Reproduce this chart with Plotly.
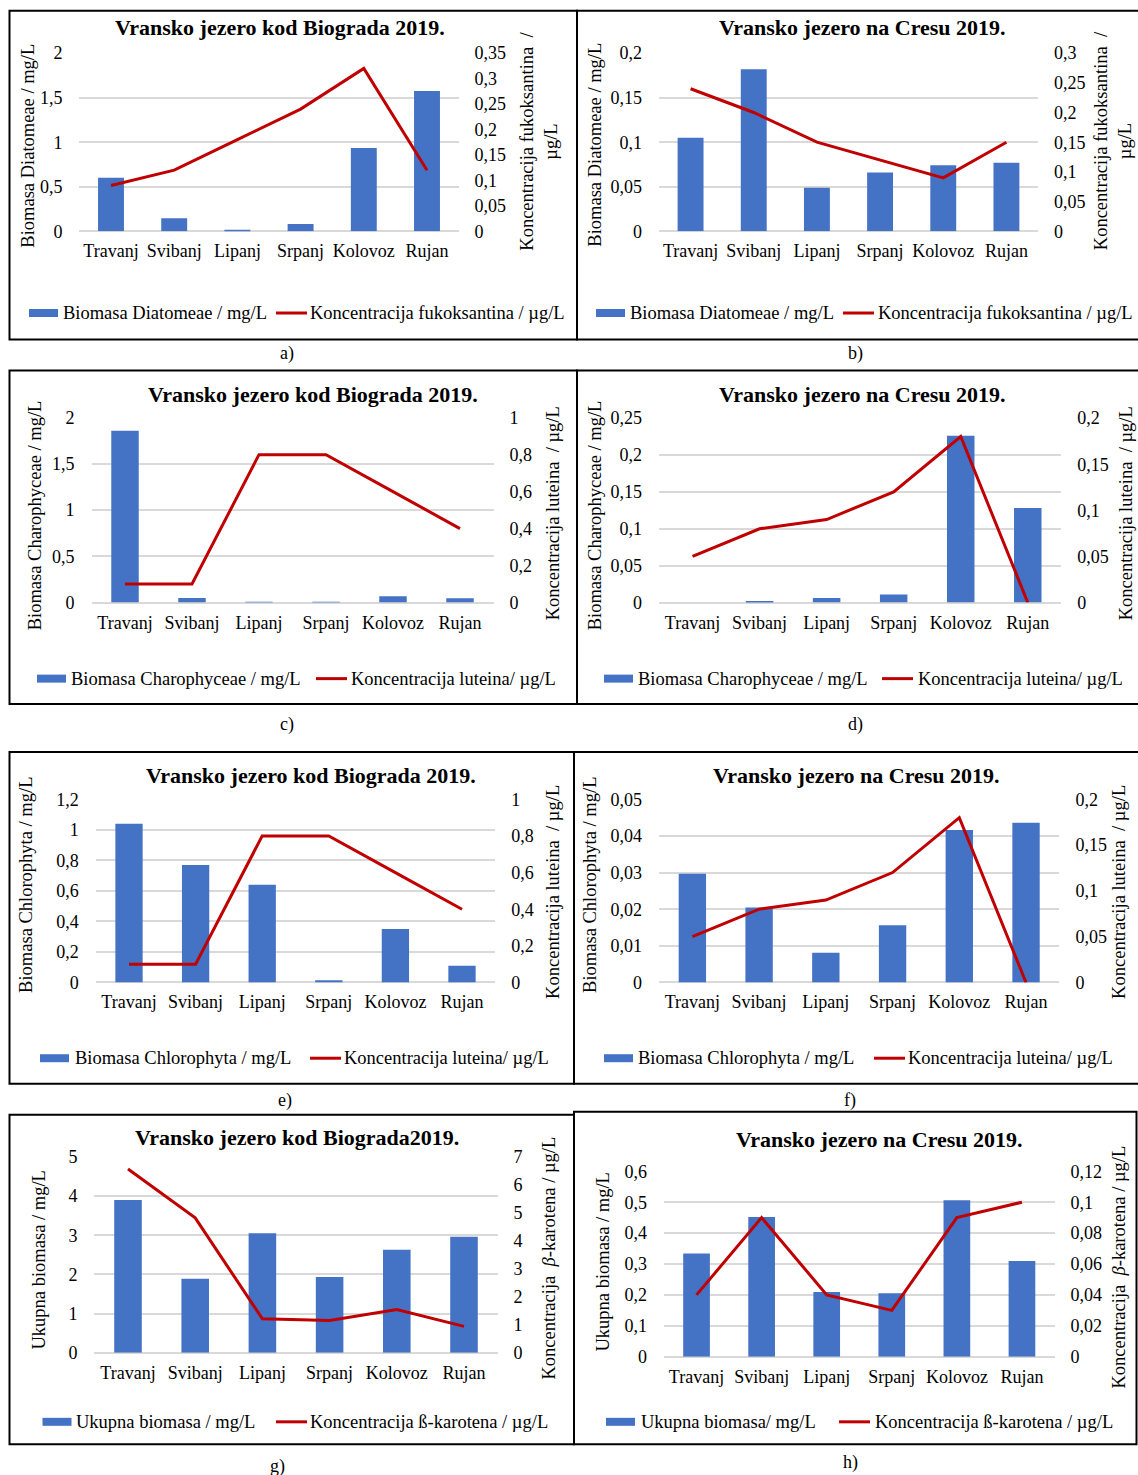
import plotly.graph_objects as go

W, H = 1138, 1475
FONT = "Liberation Serif"
BLUE = "#4472C4"
RED = "#C00000"
GRID = "#D9D9D9"
INK = "#000000"

months = ["Travanj", "Svibanj", "Lipanj", "Srpanj", "Kolovoz", "Rujan"]

# Biomass by group (mg/L)
diatomeae_biograd = [0.60, 0.146, 0.016, 0.083, 0.935, 1.574]
diatomeae_cres = [0.105, 0.182, 0.049, 0.066, 0.074, 0.077]
charophyceae_biograd = [1.86, 0.05, 0.008, 0.008, 0.068, 0.047]
charophyceae_cres = [0.0, 0.001, 0.006, 0.011, 0.226, 0.128]
chlorophyta_biograd = [1.04, 0.77, 0.64, 0.015, 0.35, 0.11]
chlorophyta_cres = [0.0297, 0.0205, 0.0081, 0.0156, 0.0416, 0.0436]
ukupna_biograd = [3.90, 1.89, 3.05, 1.93, 2.63, 2.96]
ukupna_cres = [0.334, 0.452, 0.209, 0.205, 0.506, 0.310]

# Pigment concentrations (µg/L)
fukoksantin_biograd = [0.09, 0.12, 0.18, 0.24, 0.32, 0.12]
fukoksantin_cres = [0.24, 0.20, 0.15, 0.12, 0.09, 0.15]
lutein_biograd = [0.1, 0.1, 0.8, 0.8, 0.6, 0.4]
lutein_cres = [0.05, 0.08, 0.09, 0.12, 0.18, 0.0]
karoten_biograd = [6.57, 4.82, 1.21, 1.15, 1.54, 0.94]
karoten_cres = [0.04, 0.09, 0.04, 0.03, 0.09, 0.10]

# Axis extents: (max, step) for the biomass axis and the pigment axis
axes_a = ((2, 0.5), (0.35, 0.05))
axes_b = ((0.2, 0.05), (0.3, 0.05))
axes_c = ((2, 0.5), (1, 0.2))
axes_d = ((0.25, 0.05), (0.2, 0.05))
axes_e = ((1.2, 0.2), (1, 0.2))
axes_f = ((0.05, 0.01), (0.2, 0.05))
axes_g = ((5, 1), (7, 1))
axes_h = ((0.6, 0.1), (0.12, 0.02))

T_BIO = "Vransko jezero kod Biograda 2019."
T_CRES = "Vransko jezero na Cresu 2019."
FUKO_AX = "Koncentracija fukoksantina  /<br>µg/L"
LUT_AX = "Koncentracija luteina  / µg/L"
KAR_AX = "Koncentracija  <i>β</i>-karotena / µg/L"

panels = [
    dict(title=T_BIO, bars=diatomeae_biograd, line=fukoksantin_biograd, axes=axes_a,
         ytitle="Biomasa Diatomeae / mg/L", y2title=FUKO_AX,
         leg_bar="Biomasa Diatomeae / mg/L", leg_line="Koncentracija fukoksantina / µg/L", label="a)",
         box=(9.5, 577, 10, 339), plot=(79.4, 458.6, 52.3, 230.7), title_xy=(280, 27),
         ytitle_xy=(28, 145), y2title_xy=(539, 141), leg_y=312.5, leg_bar_x=(29, 61),
         leg_line_x=(276, 308), label_xy=(287, 353)),
    dict(title=T_CRES, bars=diatomeae_cres, line=fukoksantin_cres, axes=axes_b,
         ytitle="Biomasa Diatomeae / mg/L", y2title=FUKO_AX,
         leg_bar="Biomasa Diatomeae / mg/L", leg_line="Koncentracija fukoksantina / µg/L", label="b)",
         box=(577, 1141, 10, 339), plot=(659, 1038, 52.3, 230.7), title_xy=(862, 27),
         ytitle_xy=(595, 144), y2title_xy=(1112.5, 140), leg_y=312.5, leg_bar_x=(596, 628),
         leg_line_x=(843, 876), label_xy=(855, 353)),
    dict(title=T_BIO, bars=charophyceae_biograd, line=lutein_biograd, axes=axes_c,
         ytitle="Biomasa Charophyceae / mg/L", y2title=LUT_AX,
         leg_bar="Biomasa Charophyceae / mg/L", leg_line="Koncentracija luteina/ µg/L", label="c)",
         box=(9.5, 577, 370, 704), plot=(91.5, 493.5, 417.3, 602.3), title_xy=(313, 394),
         ytitle_xy=(35, 515), y2title_xy=(553, 513), leg_y=678.5, leg_bar_x=(37, 68.5),
         leg_line_x=(316, 348.5), label_xy=(287, 724)),
    dict(title=T_CRES, bars=charophyceae_cres, line=lutein_cres, axes=axes_d,
         ytitle="Biomasa Charophyceae / mg/L", y2title=LUT_AX,
         leg_bar="Biomasa Charophyceae / mg/L", leg_line="Koncentracija luteina/ µg/L", label="d)",
         box=(577, 1141, 370, 704), plot=(659, 1061.3, 417.7, 602.3), title_xy=(862, 394),
         ytitle_xy=(595, 515), y2title_xy=(1126, 513), leg_y=678.5, leg_bar_x=(604, 636),
         leg_line_x=(882, 916), label_xy=(855, 724)),
    dict(title=T_BIO, bars=chlorophyta_biograd, line=lutein_biograd, axes=axes_e,
         ytitle="Biomasa Chlorophyta / mg/L", y2title=LUT_AX,
         leg_bar="Biomasa Chlorophyta / mg/L", leg_line="Koncentracija luteina/ µg/L", label="e)",
         box=(9.5, 574, 752, 1084), plot=(95.7, 495.3, 799.3, 982.7), title_xy=(311, 775),
         ytitle_xy=(26, 885), y2title_xy=(553, 892), leg_y=1058.5, leg_bar_x=(40, 72.5),
         leg_line_x=(310, 342), label_xy=(285, 1101)),
    dict(title=T_CRES, bars=chlorophyta_cres, line=lutein_cres, axes=axes_f,
         ytitle="Biomasa Chlorophyta / mg/L", y2title=LUT_AX,
         leg_bar="Biomasa Chlorophyta / mg/L", leg_line="Koncentracija luteina/ µg/L", label="f)",
         box=(574, 1141, 752, 1084), plot=(659, 1059.4, 799.3, 982.7), title_xy=(856, 775),
         ytitle_xy=(590, 885), y2title_xy=(1119, 892), leg_y=1058.5, leg_bar_x=(604, 636),
         leg_line_x=(874, 906), label_xy=(850, 1101)),
    dict(title="Vransko jezero kod Biograda2019.", bars=ukupna_biograd, line=karoten_biograd, axes=axes_g,
         ytitle="Ukupna biomasa / mg/L", y2title=KAR_AX,
         leg_bar="Ukupna biomasa / mg/L", leg_line="Koncentracija ß-karotena / µg/L", label="g)",
         box=(9.5, 574, 1115, 1445), plot=(94.4, 497.6, 1157.3, 1353.3), title_xy=(297, 1138),
         ytitle_xy=(39, 1261), y2title_xy=(549, 1259), leg_y=1422.5, leg_bar_x=(42.5, 74),
         leg_line_x=(276, 308), label_xy=(277, 1467)),
    dict(title=T_CRES, bars=ukupna_cres, line=karoten_cres, axes=axes_h,
         ytitle="Ukupna biomasa / mg/L", y2title=KAR_AX,
         leg_bar="Ukupna biomasa/ mg/L", leg_line="Koncentracija ß-karotena / µg/L", label="h)",
         box=(574, 1136.5, 1112, 1445), plot=(664, 1054.5, 1171.7, 1357.3), title_xy=(879, 1140),
         ytitle_xy=(603, 1263), y2title_xy=(1119, 1268), leg_y=1422.5, leg_bar_x=(606, 639),
         leg_line_x=(839, 872.5), label_xy=(850, 1463)),
]

# vertical placement: page offset and scale applied to all layout positions
Y_OFF, Y_SCALE = 9.16, 0.9875


def fx(x):
    return x / W


def fy(y):
    return 1 - ((y - Y_OFF) / Y_SCALE) / H


fig = go.Figure()
layout = {}
shapes = []
annotations = []


def txt(x, y, text, size=18.5, angle=0, xanchor="center", bold=False):
    annotations.append(dict(
        x=fx(x), y=fy(y), xref="paper", yref="paper", text=f"<b>{text}</b>" if bold else text,
        showarrow=False, textangle=angle, xanchor=xanchor, yanchor="middle", align="center",
        font=dict(family=FONT, size=size, color=INK),
    ))


for i, p in enumerate(panels, start=1):
    xname = "x" if i == 1 else f"x{i}"
    y1n = "y" if i == 1 else f"y{2 * i - 1}"
    y2n = f"y{2 * i}"
    x0, x1, ytop, ybot = p["plot"]
    (m1, d1), (m2, d2) = p["axes"]

    fig.add_trace(go.Bar(x=months, y=p["bars"], xaxis=xname, yaxis=y1n,
                         marker=dict(color=BLUE, line=dict(width=0)), showlegend=False))
    fig.add_trace(go.Scatter(x=months, y=p["line"], xaxis=xname, yaxis=y2n, mode="lines",
                             line=dict(color=RED, width=3), showlegend=False))

    tickfont = dict(family=FONT, size=18, color=INK)
    layout["xaxis" if i == 1 else f"xaxis{i}"] = dict(
        domain=[fx(x0), fx(x1)], anchor=y1n, type="category", showgrid=False,
        showline=False, zeroline=False, ticks="", tickfont=tickfont, ticklabelstandoff=7,
    )
    layout["yaxis" if i == 1 else f"yaxis{2 * i - 1}"] = dict(
        domain=[fy(ybot), fy(ytop)], anchor=xname, range=[0, m1 * (1 + 1e-9)],
        tickmode="linear", tick0=0, dtick=d1, showgrid=True, gridcolor=GRID, gridwidth=2,
        zeroline=True, zerolinecolor=GRID, zerolinewidth=2, showline=False, ticks="",
        tickfont=tickfont, ticklabelstandoff=16,
    )
    layout[f"yaxis{2 * i}"] = dict(
        overlaying=y1n, anchor=xname, side="right", range=[0, m2 * (1 + 1e-9)],
        tickmode="linear", tick0=0, dtick=d2, showgrid=False, zeroline=False, showline=False,
        ticks="", tickfont=tickfont, ticklabelstandoff=15,
    )

    bx0, bx1, by0, by1 = p["box"]
    shapes.append(dict(type="rect", xref="paper", yref="paper", x0=fx(bx0), x1=fx(bx1),
                       y0=fy(by1), y1=fy(by0), line=dict(color="#000000", width=2),
                       fillcolor="rgba(0,0,0,0)", layer="below"))

    txt(*p["title_xy"], p["title"], size=22, bold=True)
    txt(*p["ytitle_xy"], p["ytitle"], angle=-90)
    txt(*p["y2title_xy"], p["y2title"], angle=-90)
    txt(*p["label_xy"], p["label"], size=18)

    # legend keys
    ly = p["leg_y"]
    bk, bt = p["leg_bar_x"]
    shapes.append(dict(type="rect", xref="paper", yref="paper", x0=fx(bk), x1=fx(bk + 29),
                       y0=fy(ly + 4), y1=fy(ly - 4), line=dict(width=0), fillcolor=BLUE))
    txt(bt, ly, p["leg_bar"], xanchor="left")
    lk, lt = p["leg_line_x"]
    shapes.append(dict(type="line", xref="paper", yref="paper", x0=fx(lk), x1=fx(lk + 31),
                       y0=fy(ly), y1=fy(ly), line=dict(color=RED, width=3)))
    txt(lt, ly, p["leg_line"], xanchor="left")

fig.update_layout(
    width=W, height=H, autosize=False,
    margin=dict(l=0, r=0, t=0, b=0),
    paper_bgcolor="white", plot_bgcolor="rgba(0,0,0,0)",
    separators=", ", bargap=0.59, showlegend=False,
    font=dict(family=FONT, size=18, color=INK),
    shapes=shapes, annotations=annotations,
    **layout,
)

fig.write_html("out.html")
